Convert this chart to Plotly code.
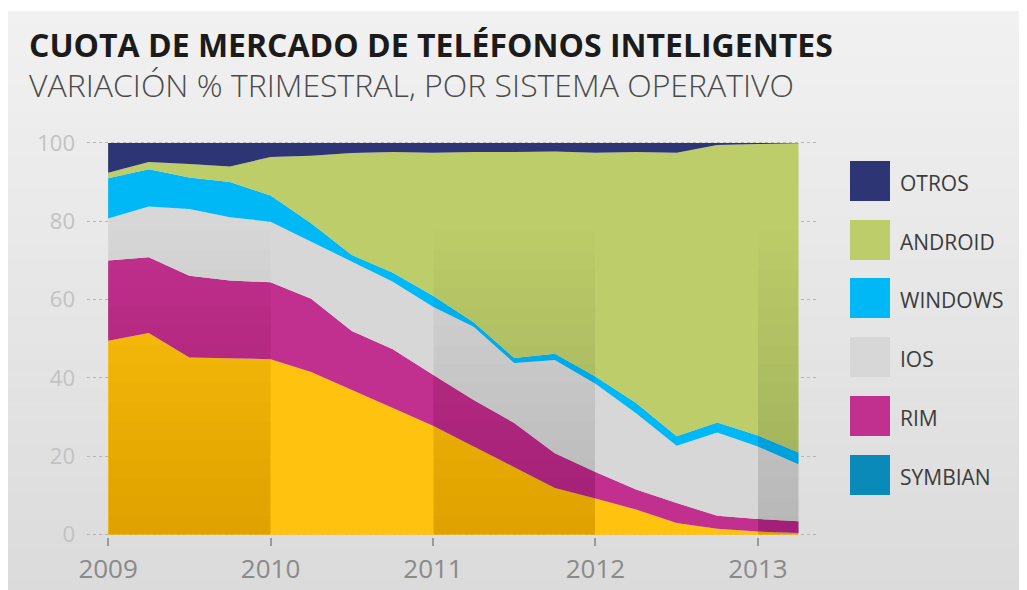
import plotly.graph_objects as go

# ---------------- data (quarterly market share, %) ----------------
quarters = [2009.0, 2009.25, 2009.5, 2009.75, 2010.0, 2010.25, 2010.5, 2010.75,
            2011.0, 2011.25, 2011.5, 2011.75, 2012.0, 2012.25, 2012.5, 2012.75,
            2013.0, 2013.25]
symbian = [49.5, 51.5, 45.2, 45.0, 44.8, 41.5, 37.0, 32.5, 27.8, 22.5, 17.3, 11.9,
           9.2, 6.4, 3.0, 1.5, 0.8, 0.4]
rim = [20.5, 19.3, 20.9, 19.9, 19.6, 18.7, 15.0, 14.9, 13.0, 11.9, 11.2, 8.9,
       6.8, 5.1, 5.1, 3.3, 3.2, 3.0]
ios = [10.7, 13.0, 17.0, 16.1, 15.5, 14.6, 17.5, 17.2, 17.4, 18.7, 15.3, 23.8,
       22.5, 19.5, 14.6, 21.3, 18.5, 14.6]
windows = [10.3, 9.5, 8.1, 9.0, 6.7, 4.7, 1.9, 2.3, 2.8, 1.1, 1.3, 1.6,
           1.9, 2.6, 2.4, 2.5, 2.8, 3.0]
android = [1.4, 1.8, 3.4, 4.0, 9.8, 17.2, 26.0, 30.8, 36.5, 43.5, 52.6, 51.6,
           57.1, 64.1, 72.4, 70.9, 74.4, 78.9]
otros = [7.6, 4.9, 5.4, 6.0, 3.6, 3.3, 2.6, 2.3, 2.5, 2.3, 2.3, 2.2,
         2.5, 2.3, 2.5, 0.5, 0.3, 0.1]

series_names = ["SYMBIAN", "RIM", "IOS", "WINDOWS", "ANDROID", "OTROS"]
series_values = [symbian, rim, ios, windows, android, otros]
year_ticks = [2009, 2010, 2011, 2012, 2013]
y_ticks = [0, 20, 40, 60, 80, 100]

title_text = "CUOTA DE MERCADO DE TELÉFONOS INTELIGENTES"
subtitle_text = "VARIACIÓN % TRIMESTRAL, POR SISTEMA OPERATIVO"
legend_order = ["OTROS", "ANDROID", "WINDOWS", "IOS", "RIM", "SYMBIAN"]

# ---------------- styles ----------------
area_colors = {
    "SYMBIAN": "#FFC20F",
    "RIM": "#C2308F",
    "IOS": "#D7D7D7",
    "WINDOWS": "#00B8F5",
    "ANDROID": "#BDCD69",
    "OTROS": "#2E3574",
}
legend_colors = dict(area_colors)
legend_colors["SYMBIAN"] = "#0A8AB8"

OFF = 8  # page body margin
W, H = 1027 - OFF, 590 - OFF
ML, MR, MT, MB = 79, 209, 131, 53
PW, PH = W - ML - MR, H - MT - MB


def px2paper_x(page_px):
    return (page_px - OFF - ML) / PW


def px2paper_y(page_py):
    return (H - MB - (page_py - OFF)) / PH


fig = go.Figure()
for name, vals in zip(series_names, series_values):
    fig.add_trace(go.Scatter(
        x=quarters, y=vals, name=name, mode="lines",
        stackgroup="one", line=dict(width=0, color=area_colors[name]),
        fillcolor=area_colors[name], hoverinfo="x+y+name",
    ))

shapes = []
# background gradient panel (white strip at top)
n_bg = 40
top_c, bot_c = (241, 241, 241), (219, 219, 219)
y_top_px, y_bot_px = 11, 592
for i in range(n_bg):
    f = i / (n_bg - 1)
    c = tuple(round(top_c[k] + (bot_c[k] - top_c[k]) * f) for k in range(3))
    y0 = y_top_px + (y_bot_px - y_top_px) * i / n_bg
    y1 = y_top_px + (y_bot_px - y_top_px) * (i + 1) / n_bg
    shapes.append(dict(
        type="rect", xref="paper", yref="paper", layer="below",
        x0=px2paper_x(OFF), x1=px2paper_x(1030),
        y0=px2paper_y(y1 + 0.5), y1=px2paper_y(y0),
        fillcolor="rgb(%d,%d,%d)" % c, line=dict(width=0),
    ))

# alternating darker year bands (vertical gradient)
bands = [(2009, 2010), (2011, 2012), (2013, 2013.25)]
n_g = 16
band_top = 77.5
for (b0, b1) in bands:
    for k in range(1, n_g + 1):
        shapes.append(dict(
            type="rect", xref="x", yref="y", layer="above",
            x0=b0, x1=b1, y0=0, y1=band_top * k / n_g,
            fillcolor="rgba(0,0,0,0.0075)", line=dict(width=0),
        ))

# legend swatches
annotations = []
leg_centers = [181, 240, 298, 357, 416, 475]
for name, cy in zip(legend_order, leg_centers):
    shapes.append(dict(
        type="rect", xref="paper", yref="paper", layer="above",
        x0=px2paper_x(850), x1=px2paper_x(890),
        y0=px2paper_y(cy + 20), y1=px2paper_y(cy - 20),
        fillcolor=legend_colors[name], line=dict(width=0),
    ))
    annotations.append(dict(
        xref="paper", yref="paper", x=px2paper_x(898), y=px2paper_y(cy + 2),
        xanchor="left", yanchor="middle", showarrow=False, text=name,
        font=dict(family="Open Sans", size=21, color="#3c3c3c"),
    ))

annotations.append(dict(
    xref="paper", yref="paper", x=px2paper_x(27), y=px2paper_y(45),
    xanchor="left", yanchor="middle", showarrow=False, text="<b>" + title_text + "</b>",
    font=dict(family="Open Sans", size=32, color="#1b1b1b"),
))
annotations.append(dict(
    xref="paper", yref="paper", x=px2paper_x(27), y=px2paper_y(85),
    xanchor="left", yanchor="middle", showarrow=False, text=subtitle_text,
    font=dict(family="Open Sans", size=32, color="#4a4a4a", weight=300),
))

fig.update_layout(
    width=W, height=H,
    margin=dict(l=ML, r=MR, t=MT, b=MB, autoexpand=False),
    paper_bgcolor="white", plot_bgcolor="rgba(0,0,0,0)",
    showlegend=False,
    shapes=shapes, annotations=annotations,
    xaxis=dict(
        range=[2008.87, 2013.37], tickvals=year_ticks,
        ticktext=[str(y) for y in year_ticks],
        ticks="outside", ticklen=8, tickwidth=1.5, tickcolor="#9a9a9a",
        showgrid=False, zeroline=False, showline=False, automargin=False,
        ticklabelstandoff=1,
        tickfont=dict(family="Open Sans", size=26, color="#8a8a8a"),
    ),
    yaxis=dict(
        range=[-0.6, 101], tickvals=y_ticks,
        showgrid=True, gridcolor="#b5b5b5", griddash="dot", gridwidth=1,
        zeroline=False, showline=False, ticks="", automargin=False,
        ticklabelstandoff=11,
        tickfont=dict(family="Open Sans", size=22, color="#c2c2c2"),
    ),
    font=dict(family="Open Sans"),
)

fig.write_html("out.html")
